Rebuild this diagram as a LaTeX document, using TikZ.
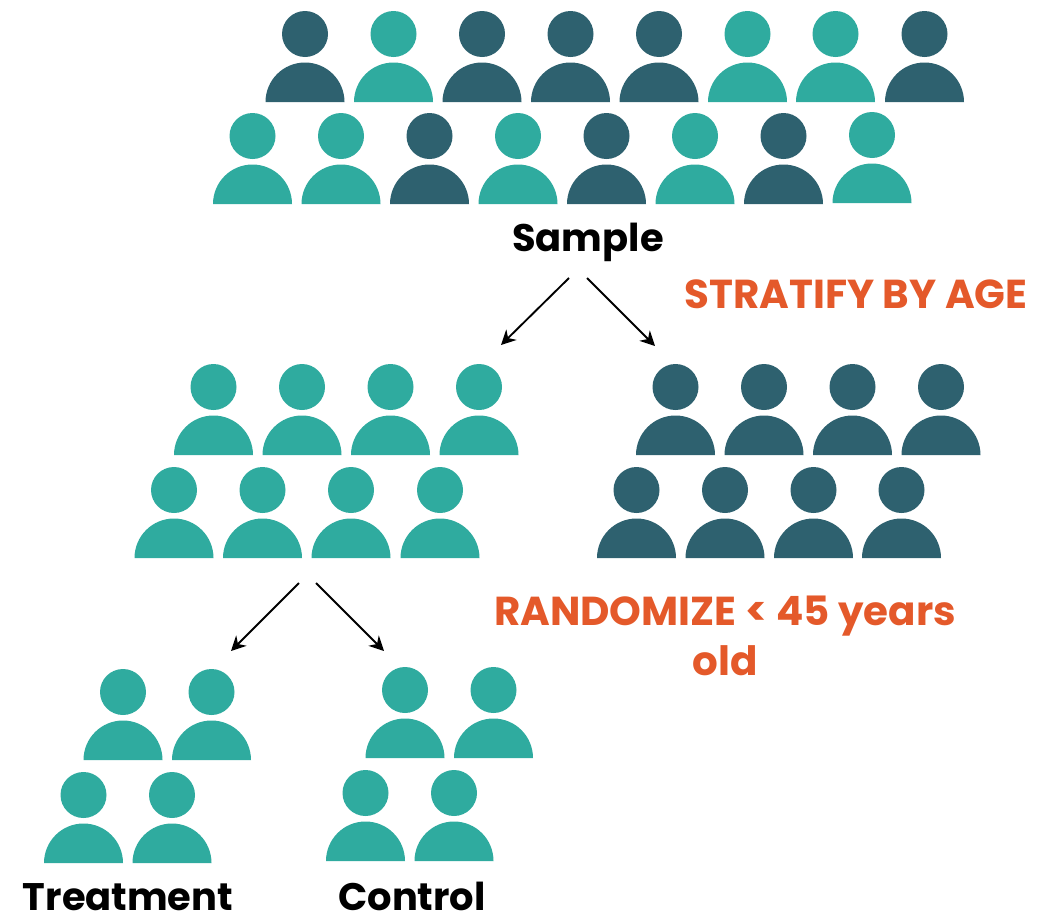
\documentclass[tikz,border=0pt]{standalone}
\usepackage{fontspec}
\setmainfont{Poppins}
\usetikzlibrary{
    arrows.meta,
    positioning
}
\definecolor{tealp}{HTML}{2FAB9F}
\definecolor{darkp}{HTML}{2E616F}
\definecolor{orangep}{HTML}{E4592A}
\tikzstyle{arrow} = [-{Stealth[length=11pt,width=11pt]}, line width=1.4pt, black]
\tikzstyle{group} = [font=\fontsize{28.8}{32}\selectfont\bfseries, text=black, inner sep=0, anchor=base]
\tikzstyle{steplabel} = [font=\fontsize{30.3}{37.5}\selectfont\bfseries, text=orangep, inner sep=0, align=center, anchor=base]
% one person: head and half disc, the base at the given point
\newcommand{\person}[3]{
    \fill[#3] (#1,#2-68) circle (23);
    \fill[#3] (#1-39.5,#2) arc (180:360:39.5) -- cycle;
}
\begin{document}
\begin{tikzpicture}[x=0.75pt,y=-0.75pt]
    \useasboundingbox (0,0) rectangle (1054,914);

    \foreach \x / \c in {305/darkp, 393.5/tealp, 482/darkp, 570.5/darkp, 659/darkp, 747.5/tealp, 835.5/tealp, 924.5/darkp}{
    \person{\x}{102}{\c}
    }
    \foreach \x / \c in {252.5/tealp, 341/tealp, 429.5/darkp, 518/tealp, 606.5/darkp, 695/tealp, 783.5/darkp}{
    \person{\x}{204}{\c}
    }
    \person{872}{203}{tealp}

    \foreach \x in {213.5,302,390.5,479}{
    \person{\x}{455}{tealp}
    }
    \foreach \x in {174,262.5,351,440}{
    \person{\x}{558}{tealp}
    }
    \foreach \x in {675.5,764,852.5,941}{
    \person{\x}{455}{darkp}
    }
    \foreach \x in {636.5,725,813.5,901.5}{
    \person{\x}{558}{darkp}
    }

    \foreach \x in {123,211.5}{
    \person{\x}{760}{tealp}
    }
    \foreach \x in {83.5,172}{
    \person{\x}{863}{tealp}
    }
    \foreach \x in {405,493.5}{
    \person{\x}{758}{tealp}
    }
    \foreach \x in {365.5,454}{
    \person{\x}{861}{tealp}
    }

    \node[group] (Sample) at (588,251) {Sample};
    \node[group] (Treatment) at (128,910) {Treatment};
    \node[group] (Control) at (412,910) {Control};
    \node[steplabel] (Stratify) at (856,308) {STRATIFY BY AGE};
    \node[steplabel] (Randomize) at (725,675) {RANDOMIZE < 45 years\\old};

    \coordinate (S1) at (569,278);
    \coordinate (S2) at (587,278);
    \coordinate (Young) at (501,345);
    \coordinate (Old) at (655,346);
    \coordinate (R1) at (299,583);
    \coordinate (R2) at (316,583);
    \coordinate (Treat) at (231,651);
    \coordinate (Ctrl) at (384,651);

    \foreach \a / \b in {S1/Young, S2/Old, R1/Treat, R2/Ctrl}{
    \draw[arrow] (\a) -- (\b);
    }
\end{tikzpicture}
\end{document}
